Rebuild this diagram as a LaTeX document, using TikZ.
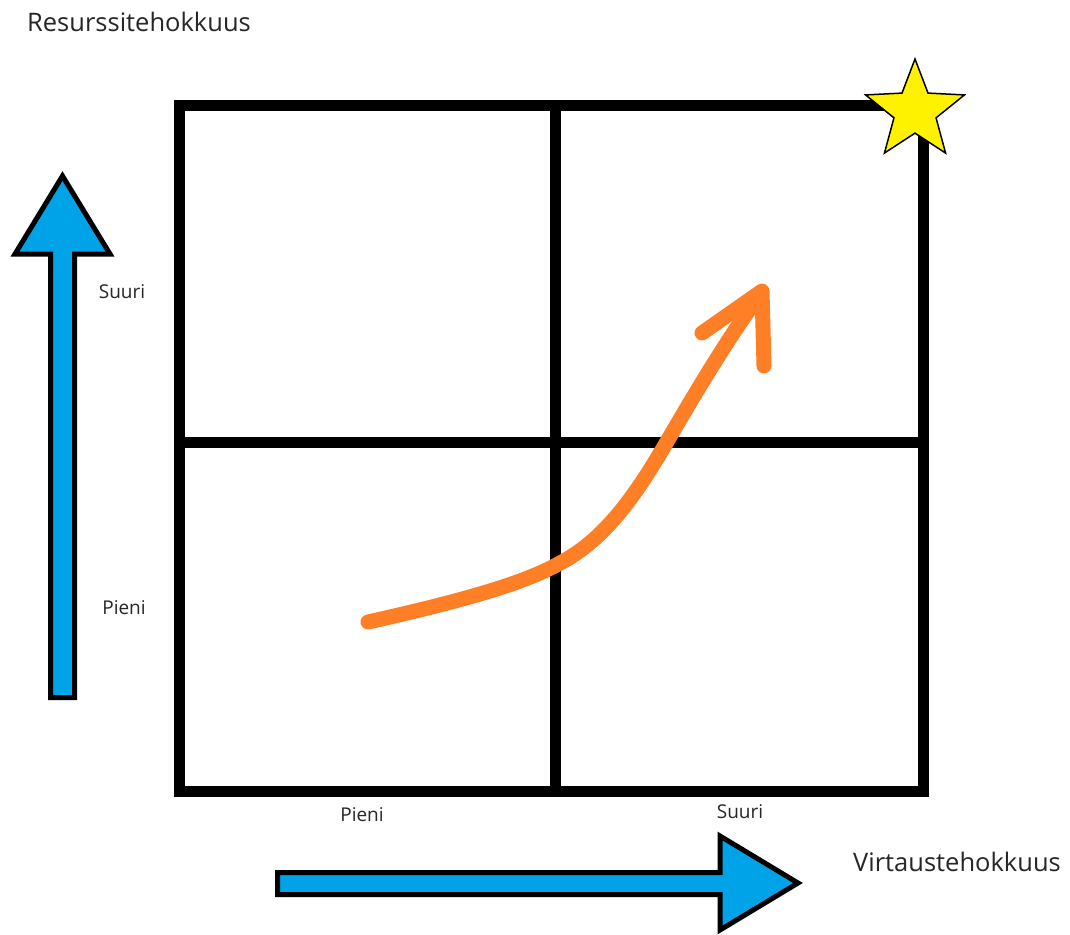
\documentclass[tikz,border=0pt]{standalone}
\usepackage{fontspec}
\setmainfont{Open Sans}
\usetikzlibrary{shapes.geometric}
\definecolor{pblue}{HTML}{00A2E8}
\definecolor{porange}{HTML}{FF7F27}
\definecolor{pyellow}{HTML}{FFF200}
\tikzset{
  gridline/.style={line width=11pt, line cap=rect},
  bluearrow/.style={draw=black, fill=pblue, line width=5pt, line join=miter},
  orangepen/.style={draw=porange, line width=15pt, line cap=round, line join=round},
  biglabel/.style={font=\fontsize{25.5}{30}\selectfont, text=black!85, inner sep=0pt},
  smalllabel/.style={font=\fontsize{19}{22}\selectfont, text=black!85, inner sep=0pt},
}
\begin{document}
\begin{tikzpicture}[x=1pt,y=-1pt]
\useasboundingbox (0,0) rectangle (1070,934);
\fill[white] (0,0) rectangle (1070,934);
% grid
\draw[gridline] (179,105) rectangle (923,791);
\draw[gridline] (555,105) -- (555,791);
\draw[gridline] (179,442) -- (923,442);
% vertical blue arrow
\draw[bluearrow] (50.5,697.5) -- (50.5,254) -- (15,254) -- (62.5,176) -- (110,254) -- (74.5,254) -- (74.5,697.5) -- cycle;
% horizontal blue arrow
\draw[bluearrow] (277.5,872.5) -- (720,872.5) -- (720,836) -- (798,883) -- (720,930) -- (720,894.5) -- (277.5,894.5) -- cycle;
% orange curve arrow
\draw[orangepen] (368,622) .. controls (480,597) and (530,580) .. (560,563)
  .. controls (600,542) and (630,505) .. (665,445)
  .. controls (700,385) and (730,335) .. (760,295);
\draw[orangepen] (702,333) -- (762,291) -- (764,366);
% star
\node[star, star points=5, star point ratio=2.35, minimum size=104pt, inner sep=0pt, draw=black, line width=1.5pt, fill=pyellow] (star) at (915,111) {};
% labels
\node[biglabel] (ylab) at (139,22) {Resurssitehokkuus};
\node[biglabel] (xlab) at (957,862) {Virtaustehokkuus};
\node[smalllabel] (ysuuri) at (122,292) {Suuri};
\node[smalllabel] (ypieni) at (124,608) {Pieni};
\node[smalllabel] (xpieni) at (362,815) {Pieni};
\node[smalllabel] (xsuuri) at (740,812) {Suuri};
\end{tikzpicture}
\end{document}
